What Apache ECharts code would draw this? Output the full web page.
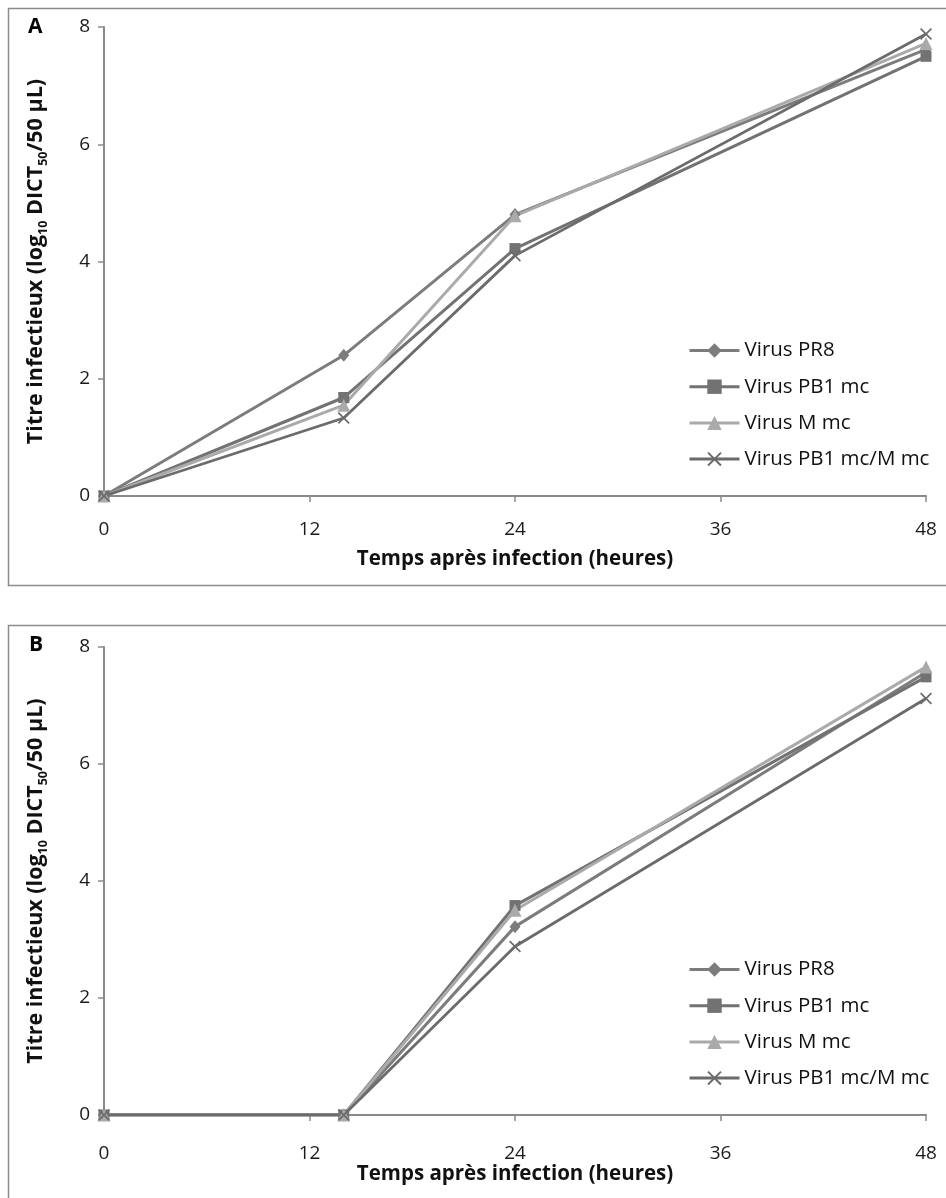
<!DOCTYPE html>
<html>
<head>
<meta charset="utf-8">
<script src="https://cdn.jsdelivr.net/npm/echarts@6/dist/echarts.min.js"></script>
<style>
html,body{margin:0;padding:0;background:#fff;}
#chart{width:946px;height:1198px;}
</style>
</head>
<body>
<div id="chart"></div>
<script>
// ---- data ----
const timesHours = [0, 14, 24, 48];
const xTicks = [0, 12, 24, 36, 48];
const yTicks = [0, 2, 4, 6, 8];
const seriesNames = ['Virus PR8', 'Virus PB1 mc', 'Virus M mc', 'Virus PB1 mc/M mc'];

// Panel A
const A_PR8    = [0, 2.40, 4.80, 7.62];
const A_PB1mc  = [0, 1.68, 4.22, 7.50];
const A_Mmc    = [0, 1.55, 4.78, 7.72];
const A_PB1_M  = [0, 1.33, 4.10, 7.88];

// Panel B
const B_PR8    = [0, 0, 3.22, 7.57];
const B_PB1mc  = [0, 0, 3.58, 7.49];
const B_Mmc    = [0, 0, 3.50, 7.66];
const B_PB1_M  = [0, 0, 2.88, 7.12];

const panelLabels = ['A', 'B'];
const xTitle = 'Temps après infection (heures)';

// ---- styling ----
const FONT = 'Open Sans';
const styles = [
  {color: '#7c7c7c', symbol: 'diamond', size: [11, 13], lw: 3},
  {color: '#727272', symbol: 'rect', size: 11, lw: 3},
  {color: '#aaaaaa', symbol: 'triangle', size: 13, lw: 3},
  {color: '#6b6b6b', symbol: 'path://M0,1 L1,0 L5,4 L9,0 L10,1 L6,5 L10,9 L9,10 L5,6 L1,10 L0,9 L4,5 Z', size: 12, lw: 2.8}
];

function pairs(vals) { return timesHours.map((t, i) => [t, vals[i]]); }

const panelData = [
  [A_PR8, A_PB1mc, A_Mmc, A_PB1_M],
  [B_PR8, B_PB1mc, B_Mmc, B_PB1_M]
];

const grids = [
  {left: 104, right: 20, top: 27, height: 469},
  {left: 104, right: 20, top: 647, height: 468}
];
const xNameGaps = [53, 43];
const xLabelMargins = [24, 29];
const legendTops = [335, 954];

const axisLineStyle = {color: '#8a8a8a', width: 2};

const option = {
  backgroundColor: '#fff',
  animation: false,
  grid: grids,
  xAxis: grids.map((g, i) => ({
    type: 'value', gridIndex: i, min: 0, max: 48, interval: 12,
    axisLine: {show: true, onZero: false, lineStyle: axisLineStyle},
    axisTick: {show: true, length: 6, lineStyle: {color: '#8a8a8a', width: 1.5}},
    splitLine: {show: false},
    axisLabel: {fontFamily: FONT, fontSize: 19, color: '#1a1a1a', margin: xLabelMargins[i]},
    name: xTitle, nameLocation: 'middle', nameGap: xNameGaps[i],
    nameTextStyle: {fontFamily: FONT, fontSize: 20.5, fontWeight: 'bold', color: '#111'}
  })),
  yAxis: grids.map((g, i) => ({
    type: 'value', gridIndex: i, min: 0, max: 8, interval: 2,
    axisLine: {show: true, lineStyle: axisLineStyle},
    axisTick: {show: true, length: 6, lineStyle: {color: '#8a8a8a', width: 1.5}},
    splitLine: {show: false},
    axisLabel: {fontFamily: FONT, fontSize: 19, color: '#1a1a1a', margin: 14},
    name: 'Titre infectieux (log{sub|10} DICT{sub|50}/50 µL)',
    nameLocation: 'middle', nameRotate: 90, nameGap: 54,
    nameTextStyle: {
      fontFamily: FONT, fontSize: 21.5, fontWeight: 'bold', color: '#111',
      rich: {
        sub: {fontFamily: FONT, fontSize: 12.5, fontWeight: 'bold', color: '#111', verticalAlign: 'bottom', lineHeight: 28}
      }
    }
  })),
  legend: legendTops.map((t, i) => ({
    data: seriesNames,
    orient: 'vertical', left: 683, top: t,
    itemWidth: 50, itemHeight: 18, itemGap: 15.2,
    lineStyle: {width: 3},
    textStyle: {fontFamily: FONT, fontSize: 20.5, color: '#111'},
    selectedMode: false
  })),
  graphic: [
    {type: 'rect', shape: {x: 8.5, y: 8.5, width: 960, height: 577}, style: {fill: 'none', stroke: '#8c8c8c', lineWidth: 1.5}, silent: true},
    {type: 'rect', shape: {x: 8.5, y: 625.5, width: 960, height: 620}, style: {fill: 'none', stroke: '#8c8c8c', lineWidth: 1.5}, silent: true},
    {type: 'text', left: 28, top: 17, style: {text: panelLabels[0], fontFamily: FONT, fontSize: 21, fontWeight: 'bold', fill: '#000'}},
    {type: 'text', left: 29, top: 635, style: {text: panelLabels[1], fontFamily: FONT, fontSize: 21, fontWeight: 'bold', fill: '#000'}}
  ],
  series: []
};

panelData.forEach((set, p) => {
  set.forEach((vals, k) => {
    const s = styles[k];
    option.series.push({
      type: 'line', name: seriesNames[k],
      xAxisIndex: p, yAxisIndex: p,
      data: pairs(vals),
      symbol: s.symbol, symbolSize: s.size,
      showAllSymbol: true,
      lineStyle: {color: s.color, width: s.lw},
      itemStyle: {color: s.color, borderWidth: 0},
      emphasis: {disabled: true}
    });
  });
});

const chart = echarts.init(document.getElementById('chart'), null, {renderer: 'canvas'});
chart.setOption(option);
</script>
</body>
</html>
